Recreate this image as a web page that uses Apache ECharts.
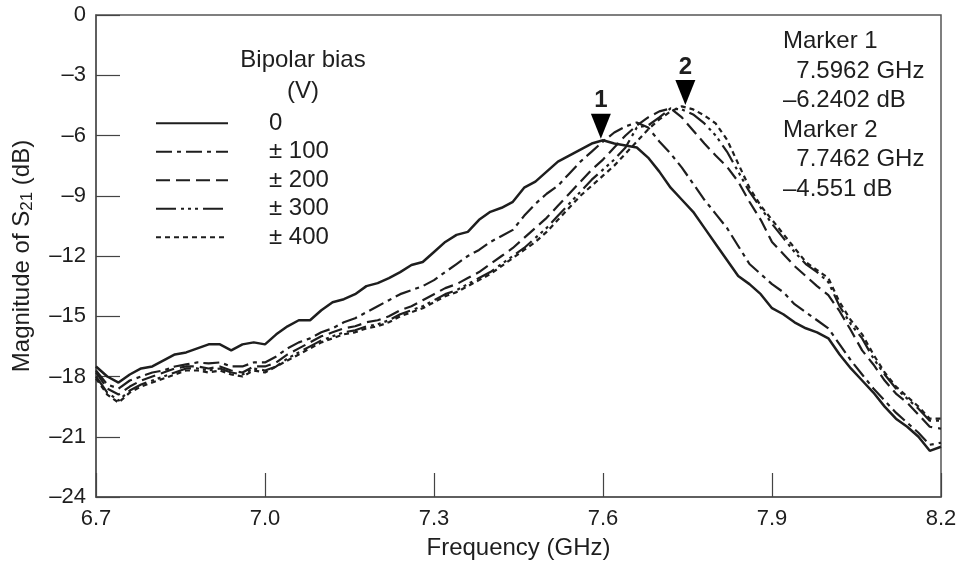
<!DOCTYPE html>
<html>
<head>
<meta charset="utf-8">
<script src="https://cdn.jsdelivr.net/npm/echarts@6/dist/echarts.min.js"></script>
<style>
html,body{margin:0;padding:0;background:#fff;}
#chart{width:957px;height:563px;}
</style>
</head>
<body>
<div id="chart"></div>
<script>
// frequency points (GHz)
var freq = [6.70,6.72,6.74,6.76,6.78,6.80,6.82,6.84,6.86,6.88,
            6.90,6.92,6.94,6.96,6.98,7.00,7.02,7.04,7.06,7.08,
            7.10,7.12,7.14,7.16,7.18,7.20,7.22,7.24,7.26,7.28,
            7.30,7.32,7.34,7.36,7.38,7.40,7.42,7.44,7.46,7.48,
            7.50,7.52,7.54,7.56,7.58,7.60,7.62,7.64,7.66,7.68,
            7.70,7.72,7.74,7.76,7.78,7.80,7.82,7.84,7.86,7.88,
            7.90,7.92,7.94,7.96,7.98,8.00,8.02,8.04,8.06,8.08,
            8.10,8.12,8.14,8.16,8.18,8.20];

// |S21| in dB for each bipolar bias
var s0 = [-17.5,-18.0,-18.3,-17.9,-17.6,-17.5,-17.2,-16.9,-16.8,-16.6,
          -16.4,-16.4,-16.7,-16.4,-16.3,-16.4,-15.9,-15.5,-15.2,-15.2,
          -14.7,-14.3,-14.15,-13.9,-13.5,-13.35,-13.1,-12.8,-12.45,-12.3,
          -11.8,-11.3,-10.95,-10.8,-10.2,-9.8,-9.6,-9.3,-8.6,-8.3,
          -7.8,-7.3,-7.0,-6.7,-6.4,-6.24,-6.4,-6.5,-6.6,-7.1,
          -7.8,-8.6,-9.2,-9.8,-10.6,-11.4,-12.2,-13.0,-13.4,-13.9,
          -14.6,-14.9,-15.3,-15.6,-15.8,-16.1,-16.9,-17.6,-18.2,-18.8,
          -19.5,-20.1,-20.5,-21.0,-21.7,-21.5];
var s100 = [-17.7,-18.4,-18.6,-18.2,-18.0,-17.8,-17.7,-17.5,-17.4,-17.3,
            -17.35,-17.3,-17.5,-17.5,-17.3,-17.3,-17.0,-16.6,-16.3,-16.1,
            -15.8,-15.6,-15.3,-15.1,-14.8,-14.5,-14.2,-13.9,-13.7,-13.5,
            -13.2,-12.8,-12.4,-12.0,-11.7,-11.3,-11.0,-10.7,-10.0,-9.4,
            -8.9,-8.5,-7.9,-7.3,-6.8,-6.3,-5.85,-5.55,-5.35,-5.6,
            -6.3,-6.9,-7.6,-8.4,-9.2,-9.9,-10.6,-11.5,-12.4,-12.9,
            -13.4,-13.8,-14.4,-14.8,-15.2,-15.6,-16.4,-17.2,-17.9,-18.6,
            -19.2,-19.8,-20.3,-20.8,-21.4,-21.3];
var s200 = [-17.8,-18.6,-18.9,-18.5,-18.2,-18.0,-17.8,-17.6,-17.5,-17.5,
            -17.6,-17.5,-17.7,-17.8,-17.5,-17.5,-17.3,-16.9,-16.6,-16.3,
            -16.0,-15.8,-15.6,-15.5,-15.3,-15.2,-15.0,-14.7,-14.5,-14.2,
            -13.9,-13.6,-13.4,-13.1,-12.8,-12.4,-12.0,-11.6,-11.1,-10.6,
            -10.1,-9.5,-8.9,-8.3,-7.7,-7.2,-6.6,-6.0,-5.5,-5.1,
            -4.8,-4.65,-5.1,-5.75,-6.4,-7.0,-7.55,-8.3,-9.3,-10.2,
            -11.3,-11.9,-12.5,-13.0,-13.5,-13.95,-14.75,-15.7,-16.7,-17.4,
            -18.2,-18.85,-19.3,-19.9,-20.5,-20.6];
var s300 = [-18.0,-18.8,-19.2,-18.7,-18.4,-18.2,-18.0,-17.8,-17.6,-17.6,
            -17.7,-17.6,-17.8,-17.9,-17.6,-17.7,-17.5,-17.1,-16.8,-16.5,
            -16.2,-16.0,-15.8,-15.7,-15.5,-15.4,-15.2,-14.9,-14.7,-14.5,
            -14.2,-13.9,-13.7,-13.4,-13.1,-12.8,-12.4,-12.0,-11.6,-11.1,
            -10.6,-10.0,-9.4,-8.8,-8.2,-7.7,-7.2,-6.6,-5.6,-5.5,
            -5.1,-4.65,-4.7,-4.95,-5.4,-6.0,-6.8,-7.8,-8.8,-9.6,
            -10.4,-11.1,-11.8,-12.4,-12.8,-13.3,-14.5,-15.4,-16.1,-17.1,
            -17.9,-18.6,-19.1,-19.6,-20.2,-20.2];
var s400 = [-18.1,-18.9,-19.3,-18.8,-18.5,-18.3,-18.1,-17.9,-17.7,-17.7,
            -17.8,-17.7,-17.9,-18.0,-17.7,-17.8,-17.5,-17.2,-16.9,-16.6,
            -16.3,-16.1,-15.9,-15.8,-15.6,-15.5,-15.3,-15.0,-14.8,-14.6,
            -14.3,-14.0,-13.8,-13.5,-13.2,-12.9,-12.5,-12.1,-11.7,-11.3,
            -10.8,-10.2,-9.6,-9.0,-8.5,-8.0,-7.5,-6.9,-6.3,-5.7,
            -5.2,-4.8,-4.55,-4.7,-5.0,-5.4,-6.2,-7.4,-8.6,-9.5,
            -10.2,-10.9,-11.6,-12.3,-12.7,-13.1,-14.3,-15.2,-15.9,-16.9,
            -17.8,-18.5,-19.0,-19.5,-20.1,-20.1];

var biasNames = ['0', '\u00b1 100', '\u00b1 200', '\u00b1 300', '\u00b1 400'];
var markerFreq = [7.5962, 7.7462];
var markerDb = [-6.2402, -4.551];

var FONT = '"Liberation Sans", Arial, Helvetica, sans-serif';
var INK = '#1e1e1e';

function pairs(vals) {
    var d = [];
    for (var i = 0; i < freq.length; i++) {
        d.push([freq[i], vals[i]]);
    }
    return d;
}

function dash(v) {
    return v < 0 ? '\u2013' + Math.abs(v) : String(v);
}

// 线型：实线、点划线、虚线、双点划线、点线
var lineTypes = ['solid', [16, 5, 4, 5], [14, 6], [20, 5, 3, 4, 3, 4, 3, 5], [5, 4]];
var allData = [s0, s100, s200, s300, s400];

function markerPoint(k) {
    return {
        symbol: 'triangle',
        symbolRotate: 180,
        symbolSize: [20, 25],
        symbolOffset: [0, -14],
        itemStyle: {color: '#000'},
        label: {
            show: true,
            position: 'top',
            distance: 1,
            color: INK,
            fontFamily: FONT,
            fontSize: 24,
            fontWeight: 'bold',
            formatter: String(k + 1)
        },
        data: [{coord: [markerFreq[k], markerDb[k]]}]
    };
}

var series = [];
for (var i = 0; i < allData.length; i++) {
    var s = {
        name: biasNames[i],
        type: 'line',
        data: pairs(allData[i]),
        symbol: 'none',
        showSymbol: false,
        lineStyle: {color: INK, width: i == 0 ? 2.5 : 2.2, type: lineTypes[i]},
        itemStyle: {color: INK},
        z: 5 - i
    };
    if (i == 0) s.markPoint = markerPoint(0);
    if (i == 4) s.markPoint = markerPoint(1);
    series.push(s);
}

var markerText = 'Marker 1\n  ' + markerFreq[0] + ' GHz\n' + dash(markerDb[0]) + ' dB\n' +
                 'Marker 2\n  ' + markerFreq[1] + ' GHz\n' + dash(markerDb[1]) + ' dB';

var myChart = echarts.init(document.getElementById('chart'));
var option = {
    animation: false,
    backgroundColor: '#fff',
    textStyle: {fontFamily: FONT, color: INK},
    grid: {
        left: 96, right: 16, top: 15, bottom: 66,
        containLabel: false,
        outerBoundsMode: 'none',
        show: true, borderColor: '#555', borderWidth: 1.5
    },
    title: {
        text: 'Bipolar bias\n(V)',
        left: 298,
        top: 40,
        textAlign: 'center',
        textStyle: {fontFamily: FONT, fontSize: 24, fontWeight: 'normal', color: INK, lineHeight: 31}
    },
    legend: {
        orient: 'vertical',
        left: 150,
        top: 106,
        itemWidth: 72,
        itemHeight: 14,
        itemGap: 4,
        data: biasNames,
        itemStyle: {opacity: 0},
        textStyle: {fontFamily: FONT, fontSize: 24, color: INK, lineHeight: 24.5, padding: [0, 0, 0, 36]}
    },
    graphic: [{
        type: 'text',
        left: 783,
        top: 27,
        style: {text: markerText, font: '24px ' + FONT, fill: INK, lineHeight: 29.5}
    }],
    xAxis: {
        type: 'value',
        min: 6.7, max: 8.2, interval: 0.3,
        name: 'Frequency (GHz)',
        nameLocation: 'middle',
        nameGap: 39,
        nameTextStyle: {fontFamily: FONT, fontSize: 24, color: INK},
        axisLine: {show: true, onZero: false, lineStyle: {color: '#555', width: 1.5}},
        axisTick: {show: true, inside: true, length: 24, lineStyle: {color: '#444', width: 1.2}},
        axisLabel: {
            margin: 11, fontFamily: FONT, fontSize: 22, color: INK,
            formatter: function (v) { return v.toFixed(1); }
        },
        splitLine: {show: false}
    },
    yAxis: {
        type: 'value',
        min: -24, max: 0, interval: 3,
        name: 'Magnitude of S{sub|21} (dB)',
        nameLocation: 'middle',
        nameGap: 60,
        nameTextStyle: {
            fontFamily: FONT, fontSize: 24, color: INK,
            rich: {sub: {fontFamily: FONT, fontSize: 17, color: INK, padding: [11, 0, 0, 0]}}
        },
        axisLine: {show: true, onZero: false, lineStyle: {color: '#555', width: 1.5}},
        axisTick: {show: true, inside: true, length: 24, lineStyle: {color: '#444', width: 1.2}},
        axisLabel: {
            margin: 10, fontFamily: FONT, fontSize: 22, color: INK,
            formatter: dash
        },
        splitLine: {show: false}
    },
    series: series
};
myChart.setOption(option);
</script>
</body>
</html>
